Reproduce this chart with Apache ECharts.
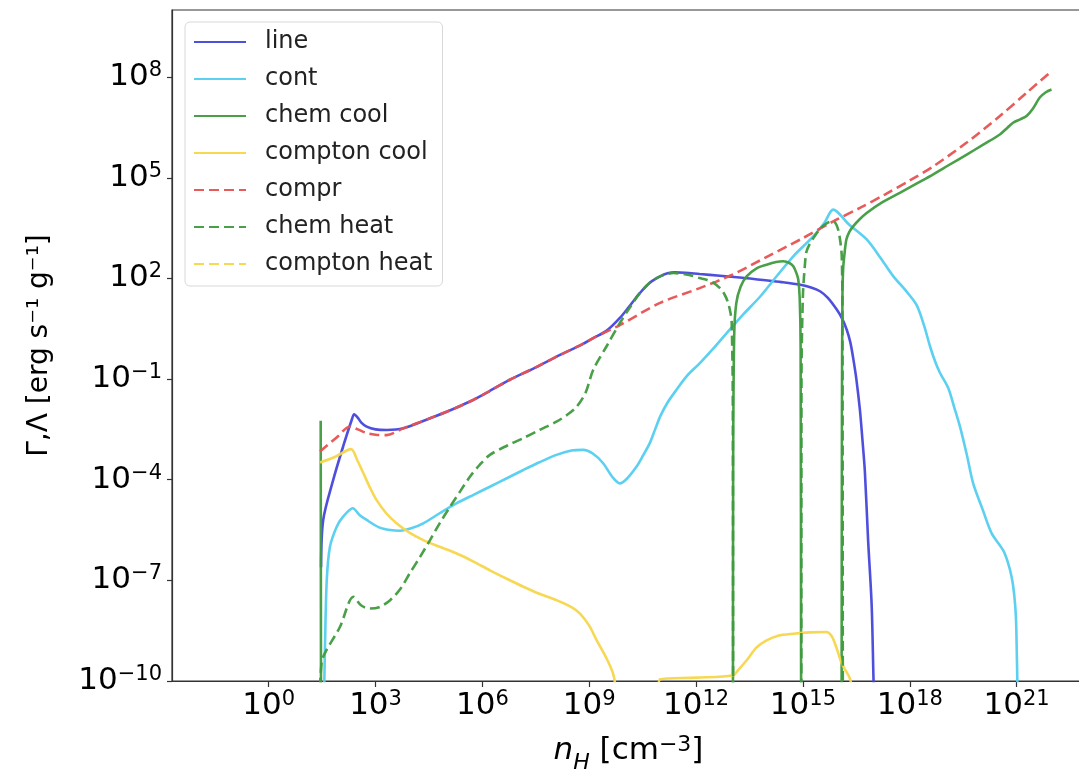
<!DOCTYPE html>
<html>
<head>
<meta charset="utf-8">
<title>Heating and cooling rates</title>
<script src="https://cdn.jsdelivr.net/npm/echarts@6/dist/echarts.min.js"></script>
<style>
  html, body { margin: 0; padding: 0; background: #fff; }
  #chart { width: 1079px; height: 771px; }
</style>
</head>
<body>
<div id="chart"></div>
<script>
// Each curve is a list of [log10 nH, log10 rate] pairs.
// -12 lies below the axis floor and marks where a rate is zero or negative;
// null splits a curve into separately drawn pieces.
const lineCool = [
  [1.47,-6.61],[1.53,-5.20],[1.81,-4.01],[2.09,-3.01],[2.33,-2.22],[2.40,-2.05],[2.5,-2.15],
  [2.6,-2.3],[2.75,-2.42],[3.0,-2.5],[3.31,-2.52],[3.78,-2.47],[4.53,-2.17],[5.1,-1.93],
  [5.65,-1.67],[6.2,-1.36],[6.77,-1.02],[7.5,-0.65],[8.18,-0.28],[8.7,-0.02],[9.11,0.22],
  [9.5,0.45],[9.86,0.82],[10.15,1.2],[10.42,1.56],[10.7,1.87],[10.99,2.06],[11.2,2.15],
  [11.4,2.18],[11.7,2.17],[12.1,2.13],[12.67,2.08],[13.3,2.02],[13.8,1.96],[14.4,1.89],
  [14.93,1.81],[15.25,1.72],[15.49,1.61],[15.7,1.42],[15.95,1.07],[16.1,0.8],[16.23,0.47],
  [16.33,0.1],[16.41,-0.37],[16.5,-1.0],[16.6,-1.92],[16.67,-2.8],[16.74,-3.77],[16.83,-5.80],
  [16.93,-7.74],[16.98,-9.88],[17.0,-10.6]
];
const contCool = [
  [1.555,-10.5],[1.58,-8.99],[1.63,-7.0],[1.72,-6.0],[1.91,-5.40],[2.09,-5.10],[2.36,-4.85],
  [2.55,-5.05],[2.75,-5.20],[3.1,-5.42],[3.41,-5.50],[3.69,-5.52],[4.0,-5.45],[4.34,-5.30],
  [4.8,-5.0],[5.28,-4.70],[5.75,-4.45],[6.21,-4.21],[6.7,-3.95],[7.15,-3.71],[7.6,-3.48],
  [8.08,-3.26],[8.5,-3.13],[8.83,-3.11],[9.1,-3.22],[9.39,-3.51],[9.65,-3.92],[9.86,-4.11],
  [10.05,-3.98],[10.33,-3.61],[10.5,-3.3],[10.70,-2.91],[10.85,-2.5],[10.99,-2.12],[11.2,-1.7],
  [11.45,-1.32],[11.75,-0.9],[12.1,-0.53],[12.5,-0.07],[12.86,0.37],[13.3,0.9],[13.8,1.46],
  [14.25,2.05],[14.73,2.66],[15.29,3.25],[15.6,3.65],[15.85,4.05],[16.3,3.6],[16.79,3.16],
  [17.2,2.58],[17.54,2.06],[17.9,1.62],[18.19,1.21],[18.4,0.6],[18.57,-0.03],[18.72,-0.5],
  [18.85,-0.82],[19.08,-1.27],[19.25,-1.85],[19.41,-2.42],[19.6,-3.25],[19.78,-4.11],
  [20.05,-4.9],[20.30,-5.60],[20.62,-6.10],[20.75,-6.45],[20.86,-6.90],[20.93,-7.4],
  [20.98,-8.09],[21.0,-8.9],[21.02,-9.98],[21.03,-10.6]
];
const chemCool = [
  [1.46,-2.24],[1.47,-12],null,
  [13.035,-12],[13.04,-4],[13.07,0.3],[13.13,1.27],[13.25,1.75],
  [13.42,2.06],[13.7,2.3],[13.98,2.41],[14.25,2.49],[14.45,2.51],[14.62,2.46],[14.73,2.36],
  [14.82,2.15],[14.87,1.96],[14.91,1.4],[14.935,0],[14.95,-12],null,
  [16.085,-12],[16.095,-2],[16.11,1.5],[16.13,2.3],[16.17,2.76],[16.22,3.16],[16.3,3.38],
  [16.41,3.55],[16.6,3.77],[16.79,3.95],[17.2,4.25],[17.72,4.55],[18.2,4.83],[18.66,5.10],
  [19.1,5.38],[19.60,5.69],[20.05,5.98],[20.53,6.29],[20.75,6.5],[20.9,6.64],[21.1,6.74],
  [21.28,6.84],[21.45,7.05],[21.65,7.39],[21.82,7.55],[21.98,7.63]
];
const comptonCool = [
  [1.44,-3.49],[1.9,-3.3],[2.31,-3.09],[2.5,-3.45],[2.66,-3.81],[2.85,-4.25],[3.03,-4.61],
  [3.3,-5.0],[3.59,-5.30],[3.95,-5.58],[4.34,-5.80],[4.8,-6.0],[5.28,-6.20],[5.75,-6.44],
  [6.21,-6.70],[6.7,-6.96],[7.15,-7.19],[7.6,-7.4],[8.08,-7.59],[8.5,-7.8],[8.74,-7.99],
  [9.0,-8.35],[9.21,-8.79],[9.45,-9.25],[9.67,-9.78],[9.75,-10.3],[9.85,-12],null,
  [10.85,-12],[10.92,-10.5],[10.99,-9.95],[12.0,-9.9],[13.04,-9.83],[13.2,-9.65],[13.42,-9.38],
  [13.7,-9.0],[13.98,-8.79],[14.3,-8.65],[14.73,-8.59],[15.2,-8.55],[15.66,-8.54],[15.8,-8.65],
  [15.9,-8.88],[16.0,-9.2],[16.09,-9.48],[16.32,-9.93],[16.4,-10.43],[16.5,-12]
];
const comprHeat = [
  [1.44,-3.16],[1.9,-2.75],[2.28,-2.42],[2.5,-2.5],[2.75,-2.61],[3.0,-2.66],[3.31,-2.67],
  [3.78,-2.47],[4.53,-2.17],[5.1,-1.93],[5.65,-1.67],[6.2,-1.36],[6.77,-1.02],[7.5,-0.65],
  [8.18,-0.28],[8.7,-0.02],[9.11,0.22],[9.86,0.61],[10.99,1.27],[12.1,1.71],[13.0,2.1],
  [14.0,2.65],[15.0,3.2],[15.85,3.70],[16.6,4.1],[17.3,4.5],[18.0,4.92],[18.66,5.34],
  [19.6,6.05],[20.53,6.84],[21.3,7.55],[21.93,8.13]
];
const chemHeat = [
  [1.45,-10.2],[1.46,-9.77],[1.53,-9.28],[2.0,-8.39],[2.38,-7.49],[2.6,-7.75],[2.84,-7.84],
  [3.1,-7.8],[3.41,-7.59],[3.7,-7.25],[3.96,-6.79],[4.25,-6.3],[4.53,-5.80],[4.8,-5.3],
  [5.09,-4.81],[5.38,-4.34],[5.65,-3.91],[5.93,-3.55],[6.21,-3.26],[6.7,-2.98],[7.15,-2.76],
  [7.6,-2.52],[8.08,-2.27],[8.4,-2.05],[8.65,-1.82],[8.9,-1.4],[9.11,-0.73],[9.5,0.0],
  [9.86,0.67],[10.15,1.15],[10.42,1.56],[10.7,1.87],[10.99,2.06],[11.36,2.16],[11.8,2.1],
  [12.1,2.01],[12.29,1.96],[12.5,1.86],[12.67,1.71],[12.8,1.52],[12.9,1.27],[12.97,0.95],
  [13.0,0.67],[13.03,-1.5],[13.04,-12],null,
  [14.955,-12],[14.96,-1],[15.0,1.5],[15.06,2.46],[15.1,2.8],[15.2,3.05],[15.29,3.2],
  [15.5,3.5],[15.7,3.66],[15.85,3.70],[15.93,3.62],[15.99,3.45],[16.05,3.1],[16.09,2.66],
  [16.11,1],[16.12,-12]
];
const comptonHeat = [];

// tick positions (powers of ten)
const xTickExps = [0, 3, 6, 9, 12, 15, 18, 21];
const yTickExps = [-10, -7, -4, -1, 2, 5, 8];

const FONT = 'DejaVu Sans';
const toPoints = arr => arr.map(p => p ? [Math.pow(10, p[0]), Math.pow(10, p[1])] : '-');
const sup = e => String(e).replace('-', '\u2212');
const powLabel = v => '{b|10}{s|' + sup(Math.round(Math.log10(v))) + '}';
const powRich = {
  b: { fontFamily: FONT, fontSize: 31, color: '#000', lineHeight: 34 },
  s: { fontFamily: FONT, fontSize: 21, color: '#000', lineHeight: 22, verticalAlign: 'top' }
};

const seriesDefs = [
  { name: 'line',         data: lineCool,    color: '#4646dc', dash: 'solid' },
  { name: 'cont',         data: contCool,    color: '#52cdf0', dash: 'solid' },
  { name: 'chem cool',    data: chemCool,    color: '#3f9b3f', dash: 'solid' },
  { name: 'compton cool', data: comptonCool, color: '#f7d64a', dash: 'solid' },
  { name: 'compr',        data: comprHeat,   color: '#e65252', dash: [10, 5] },
  { name: 'chem heat',    data: chemHeat,    color: '#3f9b3f', dash: [10, 5] },
  { name: 'compton heat', data: comptonHeat, color: '#f7d64a', dash: [10, 5] }
];

const chart = echarts.init(document.getElementById('chart'), null, { renderer: 'canvas' });

chart.setOption({
  animation: false,
  backgroundColor: '#fff',
  grid: {
    left: 172, top: 10, right: -6, bottom: 90,
    outerBoundsMode: 'none', containLabel: false,
    show: true, borderColor: '#333', borderWidth: 1.2, backgroundColor: 'transparent'
  },
  legend: {
    orient: 'vertical', left: 185, top: 22,
    padding: [8, 10, 10, 8],
    itemWidth: 52, itemHeight: 24, itemGap: 13,
    backgroundColor: 'rgba(255,255,255,0.85)',
    borderColor: '#d8d8d8', borderWidth: 1, borderRadius: 5,
    itemStyle: { color: 'rgba(0,0,0,0)', borderWidth: 0, opacity: 0 },
    textStyle: { fontFamily: FONT, fontSize: 24, color: '#222', lineHeight: 24, padding: [0, 0, 0, 14] },
    data: seriesDefs.map(s => s.name)
  },
  xAxis: {
    type: 'log', logBase: 10,
    min: Math.pow(10, -2.715), max: Math.pow(10, 22.92),
    name: '{i|n}{sub|H}{t| [cm}{sp|\u22123}{t|]}',
    nameLocation: 'middle', nameGap: 53,
    nameTextStyle: {
      rich: {
        i: { fontFamily: FONT, fontSize: 31, fontStyle: 'italic', color: '#000', lineHeight: 34 },
        sub: { fontFamily: FONT, fontSize: 22, fontStyle: 'italic', color: '#000', lineHeight: 22, verticalAlign: 'bottom', padding: [0, 0, -6, 0] },
        t: { fontFamily: FONT, fontSize: 31, color: '#000', lineHeight: 34 },
        sp: { fontFamily: FONT, fontSize: 22, color: '#000', lineHeight: 22, verticalAlign: 'top' }
      }
    },
    axisLine: { show: true, lineStyle: { color: '#333', width: 1.2 } },
    axisTick: { show: true, inside: false, length: 6, lineStyle: { color: '#333', width: 1.2 },
      customValues: xTickExps.map(e => Math.pow(10, e)) },
    minorTick: { show: false },
    axisLabel: { margin: 8, formatter: powLabel, rich: powRich,
      customValues: xTickExps.map(e => Math.pow(10, e)) },
    splitLine: { show: false }
  },
  yAxis: {
    type: 'log', logBase: 10,
    min: 1e-10, max: 1e10,
    name: '\u0393,\u039B [erg s\u207B\u00B9 g\u207B\u00B9]',
    nameLocation: 'middle', nameGap: 118, nameRotate: 90,
    nameTextStyle: { fontFamily: FONT, fontSize: 28, color: '#000' },
    axisLine: { show: true, lineStyle: { color: '#333', width: 1.2 } },
    axisTick: { show: true, inside: false, length: 5, lineStyle: { color: '#333', width: 1.2 },
      customValues: yTickExps.map(e => Math.pow(10, e)) },
    minorTick: { show: false },
    axisLabel: { margin: 10, formatter: powLabel, rich: powRich,
      customValues: yTickExps.map(e => Math.pow(10, e)) },
    splitLine: { show: false }
  },
  series: seriesDefs.map(s => ({
    name: s.name,
    type: 'line',
    data: toPoints(s.data),
    symbol: 'none',
    showSymbol: false,
    connectNulls: false,
    clip: true,
    smooth: 0.3,
    color: s.color,
    lineStyle: { color: s.color, width: 2.6, type: s.dash, opacity: 0.95 },
    emphasis: { disabled: true }
  }))
});
</script>
</body>
</html>
